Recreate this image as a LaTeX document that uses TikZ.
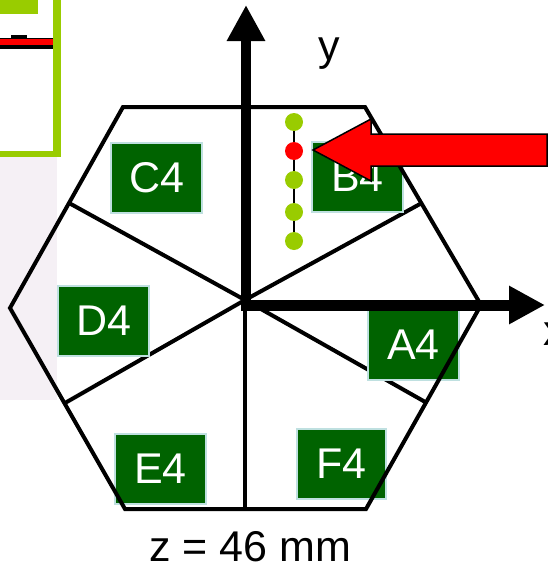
\documentclass[tikz,border=0pt]{standalone}
\usepackage{fontspec}
\setmainfont{Liberation Sans}
\usetikzlibrary{arrows.meta,positioning,calc}
\definecolor{boxgreen}{HTML}{006300}
\definecolor{boxedge}{HTML}{BFE0E0}
\definecolor{limegreen}{HTML}{99CC00}
\definecolor{panelgrey}{HTML}{F5F0F5}
\tikzset{
    labeltext/.style={font=\fontsize{43}{48}\selectfont},
    sectorbox/.style={rectangle,draw=boxedge,line width=1.5pt,fill=boxgreen,text=white,inner sep=0pt,minimum width=91pt,minimum height=70pt,labeltext},
    pindot/.style={circle,fill=limegreen,inner sep=0pt,minimum size=18pt},
    hexline/.style={line width=4pt,line join=miter},
    axisline/.style={-{Triangle[length=36pt,width=36pt]}}
}
\begin{document}
\begin{tikzpicture}[x=1pt,y=-1pt]
    \useasboundingbox (0,0) rectangle (548,570);

    % left panel
    \fill[panelgrey] (0,157) rectangle (57,400);
    \fill[limegreen] (0,0) rectangle (38,14);
    \fill[limegreen] (53,0) rectangle (61,156);
    \fill[limegreen] (0,151) rectangle (61,157);
    \fill[black] (0,38) rectangle (53,49);
    \fill[black] (11,35) rectangle (27,40);
    \fill[red] (0,39) rectangle (53,45);

    % spokes
    \coordinate (O) at (245,300);
    \coordinate (s1) at (69,203);
    \coordinate (s2) at (420,204);
    \coordinate (s3) at (65,403);
    \coordinate (s4) at (427,403);
    \coordinate (s5) at (245,509);
    \foreach \n in {s1,s2,s3,s4,s5}
        \draw[hexline] (O) -- (\n);

    % sector boxes
    \node[sectorbox] (C4) at (156.5,178) {C4};
    \node[sectorbox] (B4) at (357.5,177) {B4};
    \node[sectorbox] (D4) at (103.5,321) {D4};
    \node[sectorbox] (A4) at (413.5,345) {A4};
    \node[sectorbox] (E4) at (160.5,469) {E4};
    \node[sectorbox,minimum width=89pt] (F4) at (341.5,464) {F4};

    % hexagon
    \coordinate (h1) at (123,107);
    \coordinate (h2) at (365,107);
    \coordinate (h3) at (481,305);
    \coordinate (h4) at (366,509);
    \coordinate (h5) at (125,509);
    \coordinate (h6) at (10,308);
    \draw[hexline] (h1) -- (h2) -- (h3) -- (h4) -- (h5) -- (h6) -- cycle;

    % axes
    \coordinate (ytip) at (246,5);
    \coordinate (xtip) at (545,305);
    \coordinate (ybase) at (246,304);
    \coordinate (xbase) at (241,305);
    \draw[axisline,line width=10pt] (ybase) -- (ytip);
    \draw[axisline,line width=11pt] (xbase) -- (xtip);
    \node[labeltext,inner sep=0pt] (ylabel) at (329,54) {y};
    \node[labeltext,inner sep=0pt,anchor=west] (xlabel) at (543,334) {x};
    \node[labeltext,inner sep=0pt] (zlabel) at (250,547) {z = 46 mm};

    % pins
    \node[pindot] (p1) at (294,122) {};
    \node[pindot,fill=red] (p2) at (294,151) {};
    \node[pindot] (p3) at (294,180) {};
    \node[pindot] (p4) at (294,212) {};
    \node[pindot] (p5) at (294,241) {};
    \foreach \a/\b in {p1/p2,p2/p3,p3/p4,p4/p5}
        \draw[line width=1.5pt] (\a) -- (\b);

    % big arrow
    \draw[draw=black,line width=1.5pt,fill=red,line join=miter]
        (313,150) -- (371,119) -- (371,134) -- (547,134) -- (547,166) -- (371,166) -- (371,181) -- cycle;
\end{tikzpicture}
\end{document}
